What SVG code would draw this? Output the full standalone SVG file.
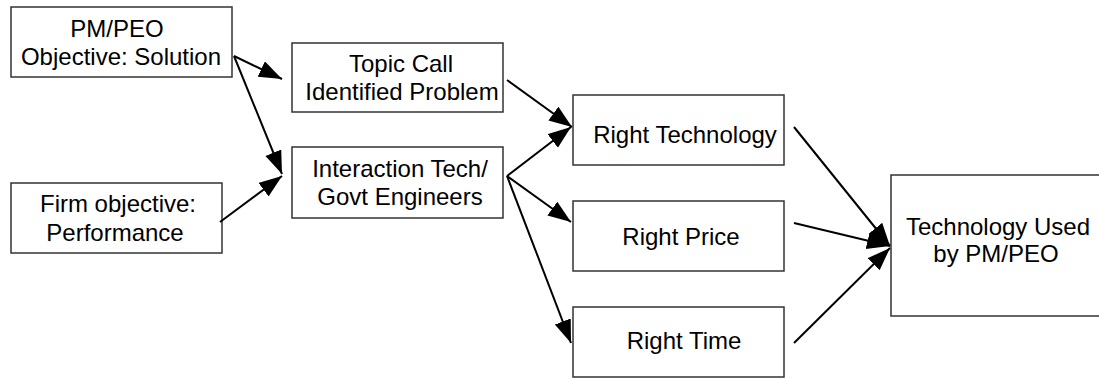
<svg xmlns="http://www.w3.org/2000/svg" width="1099" height="379" viewBox="0 0 1099 379">
<style>
.box{fill:#fff;stroke:#333;stroke-width:1.5}
.t{font-family:"Liberation Sans",Arial,sans-serif;font-size:24px;fill:#000;text-anchor:middle}
.c{stroke:#000;stroke-width:2;fill:none;marker-end:url(#ah)}
</style>
<defs>
<marker id="ah" markerUnits="userSpaceOnUse" markerWidth="26" markerHeight="20" refX="23" refY="8.5" orient="auto">
<path d="M0,0 L23,8.5 L0,17 z" fill="#000"/>
</marker>
</defs>
<rect width="1099" height="379" fill="#fff"/>
<g id="n-pmpeo"><rect class="box" x="11" y="7" width="221" height="70"/><text class="t" x="117" y="37">PM/PEO</text><text class="t" x="121" y="65">Objective: Solution</text></g>
<g id="n-firm"><rect class="box" x="11" y="183" width="211" height="70"/><text class="t" x="118" y="212">Firm objective:</text><text class="t" x="115" y="241">Performance</text></g>
<g id="n-topic"><rect class="box" x="292" y="43" width="211" height="69"/><text class="t" x="401" y="72">Topic Call</text><text class="t" x="402" y="100">Identified Problem</text></g>
<g id="n-interaction"><rect class="box" x="292" y="147" width="211" height="71"/><text class="t" x="400" y="177">Interaction Tech/</text><text class="t" x="400" y="205">Govt Engineers</text></g>
<g id="n-tech"><rect class="box" x="573" y="95" width="211" height="70"/><text class="t" x="685" y="143">Right Technology</text></g>
<g id="n-price"><rect class="box" x="573" y="201" width="211" height="70"/><text class="t" x="681" y="245">Right Price</text></g>
<g id="n-time"><rect class="box" x="573" y="307" width="211" height="70"/><text class="t" x="684" y="349">Right Time</text></g>
<g id="n-used"><rect class="box" x="891" y="175" width="212" height="141"/><text class="t" x="998" y="235">Technology Used</text><text class="t" x="996" y="262">by PM/PEO</text></g>
<g id="connectors">
<line class="c" x1="234" y1="56" x2="282" y2="79"/>
<line class="c" x1="234" y1="56" x2="282" y2="174"/>
<line class="c" x1="220" y1="222" x2="282" y2="176"/>
<line class="c" x1="507" y1="80" x2="572" y2="127"/>
<line class="c" x1="507" y1="176" x2="571" y2="127"/>
<line class="c" x1="507" y1="176" x2="571" y2="222"/>
<line class="c" x1="507" y1="176" x2="571" y2="343"/>
<line class="c" x1="794" y1="127" x2="890" y2="246"/>
<line class="c" x1="794" y1="223" x2="890" y2="246"/>
<line class="c" x1="794" y1="343" x2="890" y2="248"/>
</g>
</svg>
